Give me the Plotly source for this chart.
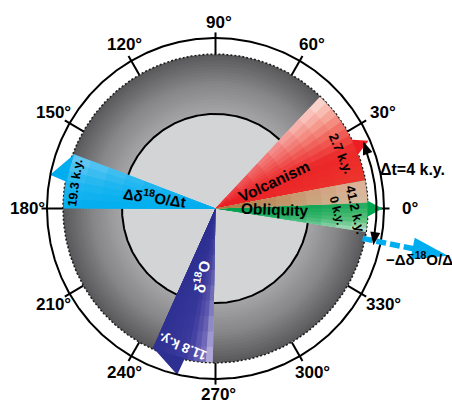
import numpy as np
import plotly.graph_objects as go

# ---------------- data ----------------
tick_angles = [0, 30, 60, 90, 120, 150, 180, 210, 240, 270, 300, 330]
tick_labels = ["0°", "30°", "60°", "90°", "120°", "150°", "180°", "210°", "240°", "270°", "300°", "330°"]
cycle_ky = 41.2                      # one full turn of the dial
series_names = ["Volcanism", "Obliquity", "Δδ18O/Δt", "δ18O"]
phase_ky = [2.7, 0.0, 19.3, -11.8]   # phase of each series (k.y.)
sector_start = [10.6, -8.8, 159.2, 245.5]
sector_end = [46.6, 2.1, 180.0, 269.0]
overlap_start = 2.1
overlap_end = 10.6
delta_t_ky = 4.0

# ---------------- geometry / styling ----------------
W, H = 452, 400
CX, CY = 215.5, 208.5
YS = 1.012
R_IN = 93.5
R_DISC = 152.5
R_OUT = 168.5
R_ARC = 161.0
R_TICK = 174.0
R_SECT = 152.0

FONT = "Liberation Sans, Arial, sans-serif"


def ang(ky):
    return ky / cycle_ky * 360.0


phase_deg = [ang(p) % 360 for p in phase_ky]

fig = go.Figure()


def arc_xy(r, a0, a1, step=0.5):
    n = max(2, int(abs(a1 - a0) / step) + 1)
    a = np.radians(np.linspace(a0, a1, n))
    return r * np.cos(a), r * np.sin(a)


def pol(r, a):
    t = np.radians(a)
    return r * np.cos(t), r * np.sin(t)


def rgb(c):
    return "rgb(%d,%d,%d)" % tuple(int(round(v)) for v in c)


def lerp(c1, c2, t):
    return [c1[i] + (c2[i] - c1[i]) * t for i in range(3)]


def stop_color(stops, f):
    for i in range(len(stops) - 1):
        f0, c0 = stops[i]
        f1, c1 = stops[i + 1]
        if f <= f1:
            return lerp(c0, c1, (f - f0) / (f1 - f0) if f1 > f0 else 0)
    return stops[-1][1]


def add_poly(x, y, color):
    fig.add_trace(go.Scatter(x=list(x), y=list(y), mode="lines", fill="toself",
                             fillcolor=color, line=dict(width=0, color=color),
                             hoverinfo="skip"))


def add_line(x, y, color="black", width=2, dash=None):
    fig.add_trace(go.Scatter(x=list(x), y=list(y), mode="lines",
                             line=dict(width=width, color=color, dash=dash),
                             hoverinfo="skip"))


def wedge(a0, a1, r):
    x, y = arc_xy(r, a0, a1)
    return np.r_[0, x, 0], np.r_[0, y, 0]


def gradient_sector(a0, a1, R, c_in, stops, p, n_a, n_r, eps=0.3):
    da = (a1 - a0) / n_a
    for k in range(n_r, 0, -1):
        r = R * k / n_r
        rf = (k - 0.5) / n_r
        for j in range(n_a):
            s = a0 + j * da
            e = s + da
            s2 = max(a0, s - eps)
            e2 = min(a1, e + eps)
            af = (j + 0.5) / n_a
            col = lerp(c_in, stop_color(stops, af), rf ** p)
            x, y = wedge(s2, e2, r)
            add_poly(x, y, rgb(col))


# ---- grey annulus with radial shading ----
grey_stops = [(0.0, (166, 166, 168)), (0.5, (134, 134, 136)), (1.0, (88, 88, 90))]
n_ring = 20
for k in range(n_ring):
    r = R_DISC - k * (R_DISC - R_IN) / n_ring
    t = 1 - (k + 0.5) / n_ring
    x, y = arc_xy(r, 0, 360)
    add_poly(x, y, rgb(stop_color(grey_stops, t)))
x, y = arc_xy(R_IN, 0, 360)
add_poly(x, y, "rgb(211,212,214)")
add_line(x, y, "black", 2)

# dotted rim of the grey disc
x, y = arc_xy(R_DISC, 0, 360)
add_line(x, y, "rgb(30,30,30)", 1.6, "2px,2px")

# angular ticks
tx, ty = [], []
for a in tick_angles:
    x0, y0 = pol(R_DISC, a)
    x1, y1 = pol(R_TICK, a)
    tx += [x0, x1, None]
    ty += [y0, y1, None]
add_line(tx, ty, "black", 2)

# ---- sectors ----
# index: 0 volcanism, 1 obliquity, 2 d(d18O)/dt, 3 d18O
sector_style = [
    dict(c_in=(233, 30, 38), stops=[(0, (236, 55, 45)), (0.35, (236, 40, 40)), (0.6, (242, 110, 100)),
                                    (0.8, (247, 175, 160)), (1.0, (252, 230, 222))], p=0.9, n_a=12, n_r=10),
    dict(c_in=(0, 160, 78), stops=[(0, (215, 238, 222)), (0.4, (110, 200, 135)), (1.0, (30, 170, 90))],
         p=1.6, n_a=6, n_r=10),
    dict(c_in=(0, 174, 239), stops=[(0, (120, 205, 243)), (0.5, (40, 185, 240)), (1.0, (0, 174, 239))],
         p=1.5, n_a=6, n_r=8),
    dict(c_in=(45, 47, 145), stops=[(0, (45, 47, 145)), (0.6, (62, 60, 160)), (0.85, (125, 115, 192)),
                                    (1.0, (210, 205, 234))], p=1.2, n_a=10, n_r=10),
]
arrow_col = [(236, 30, 36), (0, 166, 80), (0, 174, 239), (45, 47, 145)]

# arrowheads of red and green (drawn under the fills' outer edge)
for i in (0, 1):
    tip = phase_deg[i]
    if tip > 180:
        tip -= 360
    bx, by = arc_xy(R_SECT - 2, tip + 3.4, tip - 3.6)
    txp, typ = pol(167.0, tip)
    add_poly(np.r_[bx, txp], np.r_[by, typ], rgb(arrow_col[i]))

for i in range(4):
    st = sector_style[i]
    gradient_sector(sector_start[i], sector_end[i], R_SECT, st["c_in"], st["stops"], st["p"], st["n_a"], st["n_r"])

# overlap band (red over green)
gradient_sector(overlap_start, overlap_end, R_SECT, (170, 115, 55),
                [(0, (214, 192, 165)), (1.0, (224, 178, 152))], 0.9, 3, 10)

# barbed arrowheads of the two blue sectors
for i in (2, 3):
    tip = phase_deg[i]
    bx, by = arc_xy(R_SECT - 1, tip + 1.4, sector_start[i])
    txp, typ = pol(168.7, tip)
    add_poly(np.r_[bx, txp], np.r_[by, typ], rgb(arrow_col[i]))

# outer circle
x, y = arc_xy(R_OUT, 0, 360)
add_line(x, y, "black", 2)

# delta-t arc between volcanism and -d(d18O)/dt
a_top = phase_deg[0]
a_bot = phase_deg[2] - 180.0
x, y = arc_xy(R_ARC, a_bot + 2, a_top - 2)
add_line(x, y, "black", 2)

# -d(d18O)/dt dashed arrow
x0, y0 = pol(150, a_bot)
x1, y1 = pol(203, a_bot)
add_line([x0, x1], [y0, y1], "rgb(0,174,239)", 5.5, "10px,4px")
ux, uy = np.cos(np.radians(a_bot)), np.sin(np.radians(a_bot))
px_, py_ = -uy, ux
bx0, by0 = 201 * ux + 11 * px_, 201 * uy + 11 * py_
bx1, by1 = 201 * ux - 11 * px_, 201 * uy - 11 * py_
tx1, ty1 = 237 * ux, 237 * uy
add_poly([bx0, tx1, bx1, bx0], [by0, ty1, by1, by0], "rgb(0,174,239)")

# black arrowheads of the delta-t arc
for a_tip, d in ((a_top + 0.6, -1), (a_bot - 1.6, 1)):
    tipx, tipy = pol(R_ARC + 1, a_tip)
    b = a_tip + d * 4.6
    b0x, b0y = pol(R_ARC - 4.5, b)
    b1x, b1y = pol(R_ARC + 5.5, b)
    add_poly([b0x, tipx, b1x, b0x], [b0y, tipy, b1y, b0y], "black")

# ---------------- text ----------------
ann = []


def text(x, y, s, size, angle=0, color="black", xanchor="center"):
    ann.append(dict(x=x, y=y, xref="x", yref="y", text="<b>" + s + "</b>", showarrow=False,
                    textangle=angle, xanchor=xanchor, yanchor="middle",
                    font=dict(family=FONT, size=size, color=color)))


for a, lab in zip(tick_angles, tick_labels):
    rl = 184.0 + 7.0 * abs(np.cos(np.radians(a)))
    lx, ly = pol(rl, a)
    text(lx + 3, ly, lab, 17)

text(58.5, 26.5, series_names[0], 15.5, -25)
text(59.5, -0.5, series_names[1], 15.5, 2)
text(-61.5, 11.5, "Δδ<sup>18</sup>O/Δt", 15, 8)
text(-14.5, -67.5, "δ<sup>18</sup>O", 15, -80, "white")

text(125.5, 54.5, "%.1f k.y." % phase_ky[0], 13, 67)
text(140.5, -1.5, "%.1f k.y." % cycle_ky, 13, 77)
text(121.5, -1.5, "%d k.y." % phase_ky[1], 12, 75)
text(-140.5, 25.5, "%.1f k.y." % phase_ky[2], 12.5, -82)
text(-32.5, -136.5, "%.1f k.y." % abs(phase_ky[3]), 13.5, -158, "white")
text(162.0, 38.5, "Δt=%d k.y." % delta_t_ky, 16, 0, xanchor="left")
text(168.5, -49.5, "−Δδ<sup>18</sup>O/Δt", 15, 0, xanchor="left")

fig.update_layout(
    width=W, height=H, margin=dict(l=0, r=0, t=0, b=0),
    paper_bgcolor="white", plot_bgcolor="white", showlegend=False,
    hovermode=False, annotations=ann,
    xaxis=dict(range=[-CX, W - CX], visible=False, fixedrange=True),
    yaxis=dict(range=[-(H - CY) / YS, CY / YS], visible=False, fixedrange=True),
)
fig.write_html("out.html", config={"displayModeBar": False},
               post_script="document.body.style.margin='0';document.body.style.overflow='hidden';")
